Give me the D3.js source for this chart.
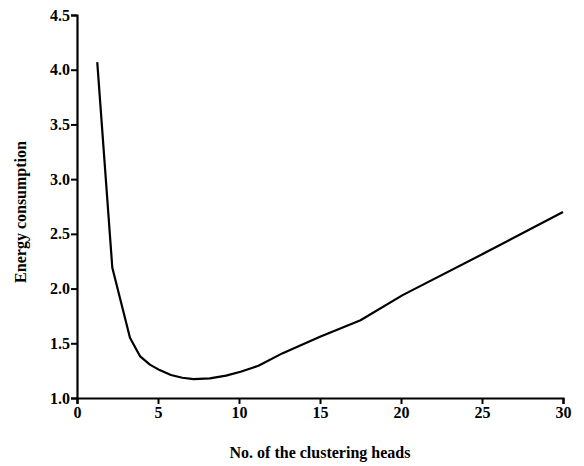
<!DOCTYPE html>
<html>
<head>
<meta charset="utf-8">
<script src="https://cdn.jsdelivr.net/npm/d3@7"></script>
<style>
	body { margin: 0; background: #fff; }
	svg text { font-family: "Times New Roman", "Liberation Serif", "DejaVu Serif", serif !important; }
</style>
</head>
<body>
<svg id="canvas" width="584" height="466"></svg>
<script>
// curve
var heads = [1.25, 2.18, 3.27, 3.9, 4.5, 5.1, 5.8, 6.5, 7.2, 8.2, 9.2, 10.1, 11.2, 12.7, 15, 17.5, 20.1, 25.1, 30];
var energy = [4.07, 2.19, 1.55, 1.38, 1.305, 1.255, 1.21, 1.185, 1.172, 1.18, 1.205, 1.24, 1.295, 1.41, 1.56, 1.71, 1.94, 2.32, 2.70];
var xTicks = [0, 5, 10, 15, 20, 25, 30];
var yTicks = [1.0, 1.5, 2.0, 2.5, 3.0, 3.5, 4.0, 4.5];

const svg = d3.select("#canvas");
const x = d3.scaleLinear().domain([0, 30]).range([77, 563]);
const y = d3.scaleLinear().domain([1, 4.5]).range([398, 15]);

// axes
const xAxis = svg.append("g")
	.attr("transform", "translate(0,398)")
	.call(d3.axisBottom(x).tickValues(xTicks).tickSize(6).tickPadding(3).tickFormat(d3.format("d")));
const yAxis = svg.append("g")
	.attr("transform", "translate(77,0)")
	.call(d3.axisLeft(y).tickValues(yTicks).tickSize(6).tickPadding(1).tickFormat(d3.format(".1f")));

[xAxis, yAxis].forEach(a => {
	a.attr("font-family", null);
	a.select(".domain").attr("stroke", "#000").attr("stroke-width", 2.2);
	a.selectAll(".tick line").attr("stroke", "#000").attr("stroke-width", 2);
	a.selectAll(".tick text")
		.attr("fill", "#000")
		.style("font-size", "16px")
		.style("font-weight", "bold");
});

// line
const line = d3.line()
	.x((d, i) => x(heads[i]))
	.y(d => y(d));

svg.append("path")
	.datum(energy)
	.attr("fill", "none")
	.attr("stroke", "#000")
	.attr("stroke-width", 2.2)
	.attr("stroke-linejoin", "round")
	.attr("d", line);

// titles
svg.append("text")
	.attr("x", 320)
	.attr("y", 458)
	.attr("text-anchor", "middle")
	.style("font-size", "16px")
	.style("font-weight", "bold")
	.text("No. of the clustering heads");

svg.append("text")
	.attr("transform", "translate(26,212) rotate(-90)")
	.attr("text-anchor", "middle")
	.style("font-size", "16px")
	.style("font-weight", "bold")
	.text("Energy consumption");
</script>
</body>
</html>
